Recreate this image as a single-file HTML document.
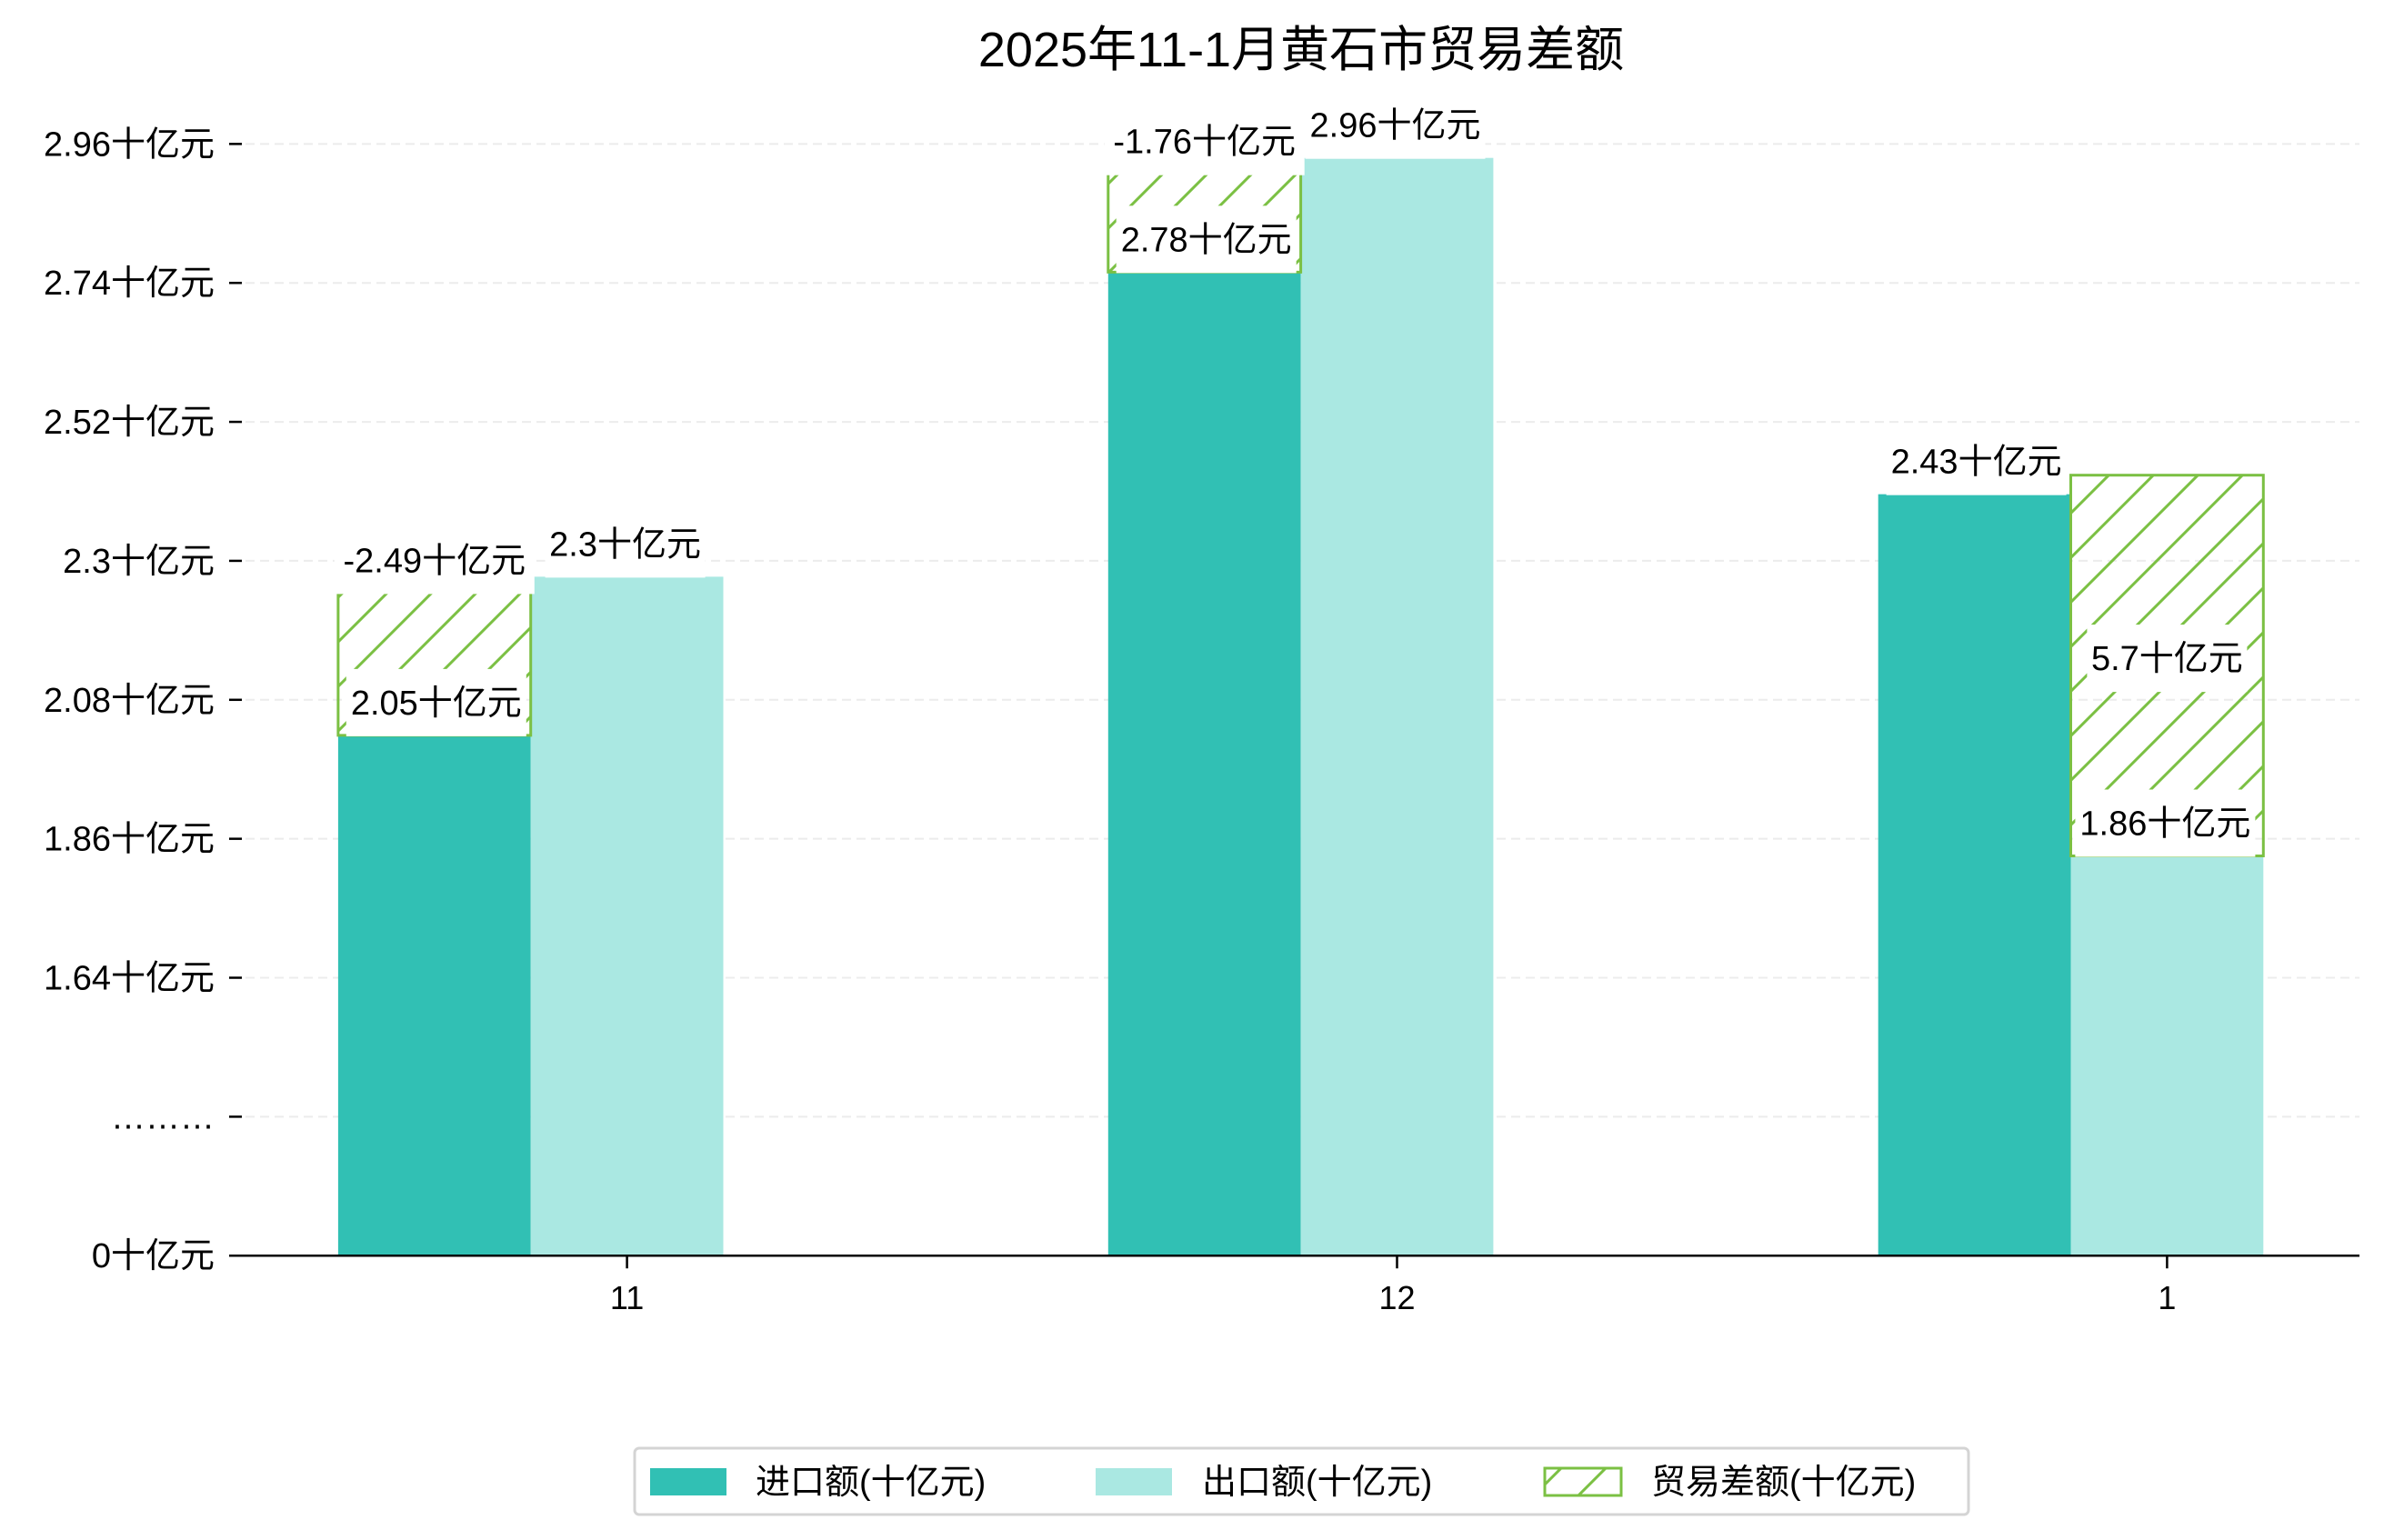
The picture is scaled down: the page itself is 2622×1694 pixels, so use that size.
<!DOCTYPE html>
<html><head><meta charset="utf-8"><style>
html,body{margin:0;padding:0;background:#fff;}
svg text{font-family:"Liberation Sans","Noto Sans CJK SC",sans-serif;}
</style></head><body>
<svg id="chart" width="2622" height="1689" viewBox="0 0 2622 1689" xmlns="http://www.w3.org/2000/svg">
<defs>
<pattern id="hatch" patternUnits="userSpaceOnUse" width="49" height="49">
<line x1="-5" y1="54" x2="54" y2="-5" stroke="#7bc043" stroke-width="3"/>
<line x1="-10" y1="10" x2="10" y2="-10" stroke="#7bc043" stroke-width="3"/>
<line x1="39" y1="59" x2="59" y2="39" stroke="#7bc043" stroke-width="3"/>
</pattern>
</defs>
<text x="1431" y="73" font-size="54" text-anchor="middle" fill="#000">2025年11-1月黄石市贸易差额</text>
<g id="grid"></g><g id="bars"></g><g id="axes"></g><g id="labels"></g>
<g>
<rect x="698" y="1593" width="1467" height="73" rx="5" fill="#fff" stroke="#d4d4d4" stroke-width="3"/>
<rect x="715" y="1615" width="84" height="30" fill="#31c0b4"/>
<text x="831" y="1643" font-size="38">进口额(十亿元)</text>
<rect x="1205" y="1615" width="84" height="30" fill="#aae8e2"/>
<text x="1322" y="1643" font-size="38">出口额(十亿元)</text>
<rect x="1699" y="1615" width="84" height="30" fill="url(#hatch)" stroke="#7bc043" stroke-width="3"/>
<text x="1816" y="1643" font-size="38">贸易差额(十亿元)</text>
</g>
</svg>
<script>
const categories = ["11", "12", "1"];
const importValues = [2.05, 2.78, 2.43];
const exportValues = [2.30, 2.96, 1.86];
const balanceLabels = ["-2.49十亿元", "-1.76十亿元", "5.7十亿元"];
const balanceSigns = [-1, -1, 1];
const tickValues = [1.23, 1.449, 1.668, 1.887, 2.106, 2.325, 2.544, 2.763, 2.982];
const tickLabels = ["0十亿元", "………", "1.64十亿元", "1.86十亿元", "2.08十亿元", "2.3十亿元", "2.52十亿元", "2.74十亿元", "2.96十亿元"];

const NS = "http://www.w3.org/2000/svg";
function y(v){ return 941.5 - (v - 1.86) * 698; }
function xc(i){ return 689.6 + i * 846.9; }
const BW = 211.8, X0 = 254, X1 = 2595, BASE = y(1.23);
function mk(tag, attrs, parent){ const e = document.createElementNS(NS, tag); for (const k in attrs) e.setAttribute(k, attrs[k]); document.getElementById(parent).appendChild(e); return e; }
function fmt(v){ return (Math.round(v*100)/100).toString() + "十亿元"; }

tickValues.forEach((tv, i) => {
  const g = mk("line", {x1: X0, x2: X1, y1: y(tv), y2: y(tv), stroke: "#ececec", "stroke-width": 2, "stroke-dasharray": "10,6"}, "grid");
  
  
  const t = mk("line", {x1: 252, x2: 266, y1: y(tv), y2: y(tv), stroke: "#000", "stroke-width": 2.5}, "axes");
  
  
  const l = mk("text", {x: 236, y: y(tv) + 13, "font-size": 38, "text-anchor": "end"}, "axes");
  l.textContent = tickLabels[i];
  
  
});
const ax = mk("line", {x1: X0, x2: X1, y1: BASE, y2: BASE, stroke: "#000", "stroke-width": 2.5}, "axes");



function labelBox(cx, cy, text, name){
  const w = text.length * 22 + 44;
  const r = mk("rect", {x: cx - w/2, y: cy - 37, width: w, height: 74, fill: "#fff"}, "labels");
  
  
  const t = mk("text", {x: cx, y: cy + 13, "font-size": 38, "text-anchor": "middle"}, "labels");
  t.textContent = text;
  
  
}

categories.forEach((c, i) => {
  const cx = xc(i);
  const ix = cx - 1.5 * BW, ex = cx - 0.5 * BW;
  const bi = mk("rect", {x: ix, y: y(importValues[i]), width: BW, height: BASE - y(importValues[i]), fill: "#31c0b4"}, "bars");
  
  
  const be = mk("rect", {x: ex, y: y(exportValues[i]), width: BW, height: BASE - y(exportValues[i]), fill: "#aae8e2"}, "bars");
  
  
  const lo = Math.min(importValues[i], exportValues[i]);
  const hi = balanceSigns[i] > 0 ? Math.max(importValues[i], exportValues[i]) + 0.03 : Math.max(importValues[i], exportValues[i]);
  const bx = balanceSigns[i] > 0 ? ex : ix;
  const bb = mk("rect", {x: bx, y: y(hi), width: BW, height: y(lo) - y(hi), fill: "url(#hatch)", stroke: "#7bc043", "stroke-width": 3}, "bars");
  
  
  const xt = mk("line", {x1: cx, x2: cx, y1: BASE, y2: BASE + 14, stroke: "#000", "stroke-width": 2.5}, "axes");
  
  
  const xl = mk("text", {x: cx, y: BASE + 59, "font-size": 36, "text-anchor": "middle"}, "axes");
  xl.textContent = c;
  
  

  labelBox(ex + BW/2 - 2, y(exportValues[i]) - 36, fmt(exportValues[i]), 'export-value-label');
  labelBox(ix + BW/2 + 2, y(importValues[i]) - 36, fmt(importValues[i]), 'import-value-label');
  const by = balanceSigns[i] > 0 ? (y(hi) + y(lo)) / 2 - 8 : y(hi) - 18;
  labelBox(bx + BW/2, by, balanceLabels[i], 'balance-value-label');
});
</script>
</body></html>
